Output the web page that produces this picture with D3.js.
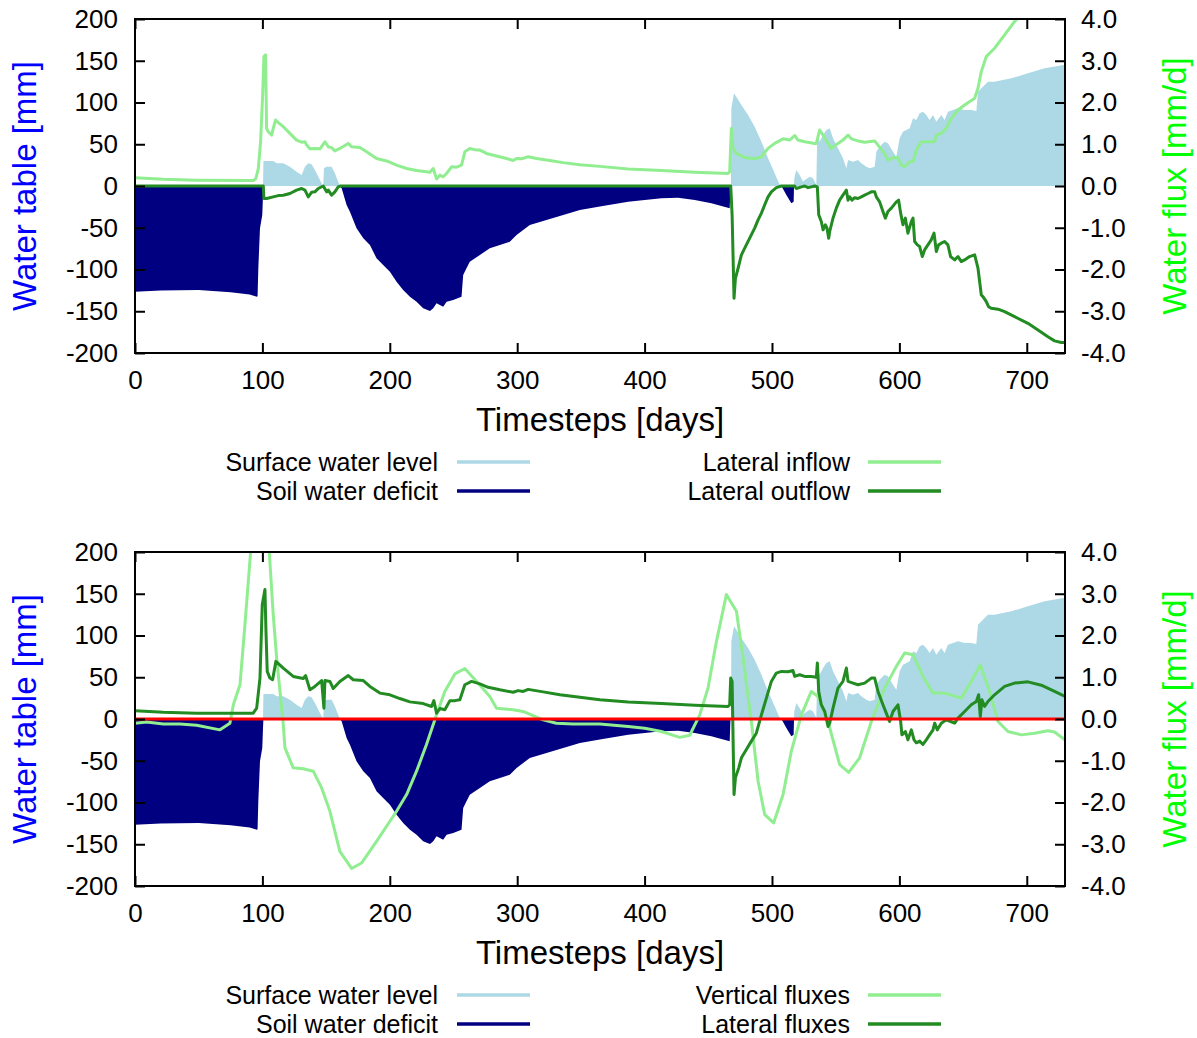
<!DOCTYPE html>
<html>
<head>
<meta charset="utf-8">
<script src="https://cdn.jsdelivr.net/npm/d3@7"></script>
<style>
  body { margin: 0; background: #fff; }
  svg { display: block; }
  text { font-family: "Liberation Sans", Arial, Helvetica, sans-serif; fill: #000; }
</style>
</head>
<body>
<svg id="chart" width="1197" height="1038"></svg>
<script>
// ---- axis ticks ----
const dayTicks = [0, 100, 200, 300, 400, 500, 600, 700];
const mmTicks = [-200, -150, -100, -50, 0, 50, 100, 150, 200];
const fluxTicks = [-4, -3, -2, -1, 0, 1, 2, 3, 4];

// ---- water table series [day, mm] ----
const surfaceLevel = [
  [0,0],[100.5,0],[100.8,29.9],[108.5,30.0],[111.2,27.1],[116.4,27.1],[121.6,23.2],[126.8,17.2],
  [130.8,13.2],[133.4,23.2],[136.0,27.1],[138.6,26.0],[141.2,19.2],[145.2,7.2],[147.2,1.2],[147.8,0],
  [148.3,21.2],[150.4,23.2],[154.3,23.2],[156.9,15.2],[159.5,5.2],[160.8,0],[467.8,0],[468.1,93.0],
  [470.2,111.0],[476.0,97.0],[481.2,85.0],[486.4,71.1],[491.7,53.1],[496.9,33.1],[502.1,15.2],
  [506.1,1.2],[506.5,0],[517.3,0],[517.5,9.2],[519.1,19.2],[521.7,13.2],[524.4,5.2],[525.7,7.2],
  [529.6,11.2],[532.2,9.2],[534.8,1.2],[535.6,65.1],[537.4,53.1],[540.1,61.1],[542.7,67.1],
  [545.3,69.1],[547.9,57.1],[551.8,45.1],[555.7,33.1],[558.4,21.2],[559.7,31.1],[563.6,29.1],
  [567.5,31.1],[570.1,27.1],[574.1,23.2],[576.7,21.2],[580.6,23.2],[581.9,41.1],[584.5,47.1],
  [588.4,53.1],[591.0,51.1],[595.0,41.1],[597.6,35.1],[600.2,57.1],[602.8,65.1],[605.4,67.1],
  [608.1,69.1],[610.7,81.0],[613.3,79.0],[615.9,87.0],[618.5,89.0],[621.1,85.0],[623.7,79.0],
  [626.4,85.0],[629.0,77.0],[632.9,85.0],[635.5,79.0],[638.1,89.0],[642.1,91.0],[646.0,93.0],
  [651.2,91.0],[656.4,91.0],[660.4,89.8],[661.7,113.0],[665.6,119.0],[669.5,125.0],[674.7,125.0],
  [687.8,128.9],[700.9,134.9],[714.0,140.9],[730,145.3]
];
const soilDeficit = [
  [0,-126.5],[20,-125],[50,-124.5],[75,-127.3],[90,-130],[95.5,-132.5],[96.2,-132],[96.8,-98.6],
  [98.1,-50.7],[99.9,-34.7],[100.5,-10],[100.8,0],[160.8,0],[162.2,-2.8],[166.1,-22.8],[168.7,-30.7],
  [173.9,-50.7],[179.2,-62.7],[184.4,-70.7],[189.6,-86.6],[194.8,-94.6],[200.1,-102.6],[205.3,-114.6],
  [210.5,-124.5],[215.8,-132.5],[221.0,-138.5],[226.2,-146.5],[231.5,-149.7],[234.1,-146.5],
  [236.7,-140.5],[241.9,-144.5],[244.6,-138.5],[249.8,-136.5],[256.3,-132.5],[257.6,-106.6],
  [260.2,-98.6],[262.8,-90.6],[270.7,-82.6],[278.5,-74.7],[286.4,-70.7],[294.2,-66.7],[299.5,-58.7],
  [309.9,-46.7],[323.0,-40.7],[336.1,-34.7],[349.2,-28.7],[364.9,-24.5],[387.1,-18.8],[413.2,-14.8],
  [426.3,-14.0],[439.4,-16.8],[452.4,-20.8],[466.8,-26.7],[467.4,0],[507.4,0],[511.3,-10.8],
  [515.2,-20.8],[517.0,-18.8],[517.3,0],[730,0]
];

// ---- water flux series [day, mm/d] ----
const lateralInflow = [
  [0,0.20],[22.2,0.16],[48.4,0.14],[92.8,0.13],[94.9,0.18],[96.8,0.42],[98.6,1.06],[100.2,2.18],
  [101.2,3.10],[102.5,3.14],[103.3,1.38],[104.6,1.30],[107.2,1.22],[108.5,1.38],[110.4,1.58],
  [112.5,1.52],[116.4,1.42],[121.6,1.26],[126.8,1.10],[130.8,1.05],[133.4,1.06],[134.7,0.98],
  [137.3,0.89],[141.2,0.90],[145.2,0.89],[147.8,1.00],[149.1,1.06],[151.7,0.94],[154.3,0.92],
  [156.9,0.84],[160.8,0.90],[167.4,1.02],[170.0,0.94],[176.5,0.92],[181.8,0.82],[189.6,0.66],
  [197.5,0.60],[205.3,0.50],[213.2,0.42],[221.0,0.37],[231.5,0.33],[234.1,0.42],[236.7,0.17],
  [239.3,0.26],[241.9,0.22],[244.5,0.30],[248.5,0.46],[252.4,0.45],[256.3,0.50],[258.9,0.82],
  [262.8,0.90],[268.1,0.86],[270.7,0.86],[275.9,0.78],[283.8,0.72],[291.6,0.66],[296.8,0.61],
  [299.5,0.66],[303.4,0.65],[308.6,0.70],[315.2,0.66],[325.6,0.61],[336.1,0.56],[349.2,0.51],
  [364.9,0.47],[387.1,0.41],[413.2,0.37],[439.4,0.33],[465.5,0.30],[466.8,0.34],[468.1,1.38],
  [469.4,0.90],[472.1,0.78],[478.6,0.68],[486.4,0.65],[491.7,0.70],[496.9,0.90],[502.1,1.02],
  [508.7,1.13],[513.9,1.10],[517.8,1.21],[520.4,1.10],[525.7,1.06],[533.5,1.02],[534.8,1.02],
  [537.4,1.34],[540.1,1.22],[544.0,1.02],[546.6,0.90],[551.8,1.02],[555.7,1.10],[559.7,1.22],
  [562.3,1.13],[567.5,1.08],[572.7,1.05],[580.6,1.08],[583.2,0.98],[588.4,0.78],[591.0,0.62],
  [595.0,0.68],[598.9,0.68],[601.5,0.50],[604.1,0.46],[608.1,0.58],[610.7,0.58],[613.3,0.86],
  [617.2,1.06],[622.4,1.06],[627.7,1.06],[629.0,1.22],[632.9,1.26],[636.8,1.38],[640.7,1.62],
  [646.0,1.82],[651.2,1.94],[659.1,2.10],[661.7,2.34],[664.3,2.74],[668.2,3.10],[674.7,3.30],
  [682.6,3.62],[690.4,3.94],[693.1,4.02],[730,5.4]
];
const lateralOutflow = [
  [0,0],[100.7,0],[101.2,-0.30],[103.3,-0.30],[108.5,-0.26],[112.5,-0.23],[116.4,-0.22],
  [121.6,-0.18],[126.8,-0.10],[130.8,-0.06],[133.4,-0.10],[136.0,-0.26],[138.6,-0.15],[141.2,-0.14],
  [143.8,-0.06],[147.8,0],[150.4,-0.14],[151.7,-0.10],[154.3,-0.22],[156.9,-0.14],[159.5,-0.02],
  [161.4,0],[467.6,0],[468.7,-0.69],[470.2,-2.69],[471.3,-2.21],[473.4,-1.97],[476.0,-1.65],
  [478.6,-1.49],[482.5,-1.25],[486.4,-1.01],[489.1,-0.81],[491.7,-0.65],[494.3,-0.45],[496.9,-0.26],
  [499.5,-0.14],[503.4,-0.04],[507.4,0],[517.8,0],[519.1,-0.06],[523.1,-0.02],[525.7,0],
  [528.3,-0.04],[530.9,-0.02],[533.5,0],[535.6,-0.02],[536.7,-0.69],[538.7,-0.85],[540.1,-1.05],
  [541.9,-0.93],[543.2,-1.01],[544.5,-1.25],[545.3,-1.09],[547.9,-0.77],[550.5,-0.53],[553.1,-0.34],
  [555.7,-0.22],[558.4,-0.10],[559.7,-0.34],[561.0,-0.26],[562.8,-0.34],[564.9,-0.28],[567.5,-0.30],
  [570.1,-0.26],[572.7,-0.22],[575.4,-0.18],[578.0,-0.14],[580.6,-0.14],[581.9,-0.26],[584.5,-0.38],
  [587.1,-0.61],[589.0,-0.77],[591.0,-0.61],[593.7,-0.53],[597.6,-0.38],[599.4,-0.34],[601.0,-0.65],
  [602.8,-0.93],[604.7,-0.77],[606.7,-1.13],[609.4,-0.85],[610.7,-0.77],[612.0,-1.33],[614.1,-1.41],
  [615.9,-1.45],[618.0,-1.69],[619.8,-1.53],[622.4,-1.41],[625.0,-1.29],[627.2,-1.13],[629.0,-1.57],
  [630.8,-1.41],[632.9,-1.37],[635.5,-1.33],[638.1,-1.41],[640.2,-1.69],[643.4,-1.77],[646.0,-1.69],
  [648.6,-1.81],[651.2,-1.77],[655.1,-1.69],[659.1,-1.65],[661.7,-1.97],[664.3,-2.61],[665.6,-2.65],
  [668.2,-2.77],[670.0,-2.89],[672.1,-2.93],[677.4,-2.95],[682.6,-3.01],[690.4,-3.13],[700.9,-3.29],
  [708.8,-3.45],[716.6,-3.61],[721.8,-3.71],[727.1,-3.75],[730,-3.75]
];
const verticalFluxes = [
  [0,-0.10],[9.2,-0.07],[22.2,-0.12],[35.3,-0.12],[48.4,-0.15],[66.7,-0.26],[74.5,-0.10],[77.2,0.34],
  [82.4,0.82],[86.3,2.26],[90.8,4.02],[98.0,6.6],[105.4,4.0],[108.5,2.50],[111.2,1.46],[113.8,0.66],
  [116.4,-0.14],[117.7,-0.69],[124.2,-1.17],[132.1,-1.19],[139.9,-1.25],[146.5,-1.65],[153.0,-2.21],
  [160.8,-3.17],[170.0,-3.58],[177.8,-3.45],[189.6,-2.93],[205.3,-2.21],[213.2,-1.81],[221.0,-1.25],
  [228.8,-0.61],[236.7,0.10],[243.2,0.66],[251.1,1.08],[258.9,1.21],[268.1,0.90],[278.5,0.54],
  [283.8,0.26],[296.8,0.22],[304.7,0.18],[313.8,0.06],[320.4,-0.02],[330.8,-0.10],[343.9,-0.12],
  [364.9,-0.12],[387.1,-0.18],[400.1,-0.22],[413.2,-0.30],[427.6,-0.44],[435.4,-0.39],[443.3,0.10],
  [449.8,0.74],[456.4,1.86],[464.2,2.98],[472.1,2.58],[477.3,1.46],[483.8,-0.06],[489.1,-1.49],
  [494.3,-2.29],[501.3,-2.49],[508.7,-1.81],[515.2,-0.77],[523.1,0.10],[530.9,0.66],[536.1,0.54],
  [544.0,-0.06],[553.1,-1.09],[560.2,-1.28],[568.8,-0.93],[578.0,-0.06],[588.4,0.74],[597.6,1.26],
  [604.1,1.58],[610.7,1.54],[618.5,1.02],[626.4,0.62],[635.5,0.62],[648.6,0.50],[656.4,0.90],
  [663.5,1.30],[670.8,0.66],[677.4,-0.06],[685.2,-0.30],[695.7,-0.38],[706.1,-0.34],[716.6,-0.28],
  [721.8,-0.31],[730,-0.50]
];
const lateralFluxes = [
  [0,0.20],[22.2,0.16],[48.4,0.14],[92.8,0.14],[95.5,0.26],[98.1,0.98],[99.9,2.74],[102.0,3.10],
  [102.8,2.10],[103.8,1.14],[105.9,0.98],[108.0,0.94],[110.6,1.38],[116.4,1.22],[124.2,1.02],
  [132.1,0.97],[133.9,1.04],[137.3,0.70],[141.2,0.78],[146.5,0.92],[148.3,0.26],[149.1,0.92],
  [153.0,0.90],[155.6,0.73],[160.8,0.90],[167.4,1.04],[171.3,0.94],[179.2,0.92],[184.4,0.78],
  [192.2,0.62],[200.1,0.58],[207.9,0.49],[215.8,0.41],[226.2,0.37],[232.8,0.30],[234.6,0.44],
  [236.7,0.14],[239.3,0.25],[243.2,0.22],[247.2,0.44],[251.1,0.44],[255.0,0.46],[258.9,0.82],
  [264.2,0.90],[270.7,0.84],[277.2,0.76],[286.4,0.70],[296.8,0.64],[300.8,0.68],[304.7,0.66],
  [308.6,0.71],[320.4,0.65],[333.5,0.58],[349.2,0.52],[364.9,0.46],[387.1,0.41],[413.2,0.37],
  [439.4,0.33],[465.5,0.30],[466.8,0.34],[467.6,0.98],[468.7,0.90],[470.2,-1.81],[471.3,-1.41],
  [473.9,-1.17],[476.0,-0.93],[479.9,-0.73],[483.8,-0.53],[487.7,-0.34],[491.7,0.10],[495.6,0.50],
  [499.5,0.90],[503.4,1.10],[507.4,1.14],[512.6,1.13],[516.5,1.16],[517.8,1.02],[521.7,1.06],
  [525.7,1.02],[530.9,1.02],[534.8,1.00],[535.6,1.34],[536.7,0.66],[538.7,0.34],[541.4,0.18],
  [544.0,-0.18],[545.3,-0.10],[547.9,0.26],[551.8,0.74],[555.7,0.90],[558.4,1.22],[559.7,0.90],
  [563.6,0.86],[567.5,0.82],[572.7,0.86],[578.0,0.98],[580.6,0.98],[583.2,0.66],[587.1,0.34],
  [589.7,0.14],[592.3,-0.06],[595.0,0.18],[598.9,0.34],[601.0,-0.06],[602.0,-0.38],[604.7,-0.30],
  [606.7,-0.50],[609.4,-0.26],[611.5,-0.50],[613.3,-0.57],[615.9,-0.53],[618.5,-0.61],[621.1,-0.50],
  [623.7,-0.38],[626.4,-0.26],[627.7,-0.10],[629.8,-0.26],[632.9,-0.10],[636.8,-0.02],[640.2,-0.06],
  [643.4,-0.10],[646.0,0.02],[651.2,0.18],[656.4,0.34],[660.4,0.42],[662.2,0.58],[663.5,0.06],
  [664.8,0.46],[666.9,0.30],[669.5,0.42],[674.7,0.58],[682.6,0.78],[690.4,0.86],[700.9,0.89],
  [711.4,0.81],[721.8,0.66],[730,0.54]
];

// ---- layout ----
const svg = d3.select("#chart");
const plotLeft = 135, plotRight = 1065, plotH = 334;
const fontTick = 26, fontLegend = 25, fontTitle = 33;

const colors = {
  surface: "#add8e6",
  deficit: "#000080",
  light: "#90ee90",
  dark: "#228b22",
  zero: "#ff0000",
  leftTitle: "#0000ff",
  rightTitle: "#00ff00"
};

const panels = [
  { top: 19, id: "p1",
    fluxes: [
      { label: "Lateral inflow", data: lateralInflow, color: colors.light },
      { label: "Lateral outflow", data: lateralOutflow, color: colors.dark }
    ],
    zeroLine: false },
  { top: 552, id: "p2",
    fluxes: [
      { label: "Vertical fluxes", data: verticalFluxes, color: colors.light },
      { label: "Lateral fluxes", data: lateralFluxes, color: colors.dark }
    ],
    zeroLine: true }
];

const x = d3.scaleLinear().domain([0, 730]).range([plotLeft, plotRight]);

panels.forEach(p => {
  const g = svg.append("g").attr("transform", `translate(0,${p.top})`);
  const yMm = d3.scaleLinear().domain([-200, 200]).range([plotH, 0]);
  const yFlux = d3.scaleLinear().domain([-4, 4]).range([plotH, 0]);

  g.append("clipPath").attr("id", "clip-" + p.id)
    .append("rect").attr("x", plotLeft).attr("y", 0)
    .attr("width", plotRight - plotLeft).attr("height", plotH);

  const plot = g.append("g").attr("clip-path", `url(#clip-${p.id})`);

  // water table areas on the left axis
  const areaMm = d3.area()
    .x(d => x(d[0])).y0(yMm(0)).y1(d => yMm(d[1]));

  plot.append("path").datum(surfaceLevel)
    .attr("d", areaMm).attr("fill", colors.surface);
  plot.append("path").datum(soilDeficit)
    .attr("d", areaMm).attr("fill", colors.deficit);

  // flux lines on the right axis
  const lineFlux = d3.line().x(d => x(d[0])).y(d => yFlux(d[1]));
  p.fluxes.forEach(f => {
    plot.append("path").datum(f.data)
      .attr("d", lineFlux)
      .attr("fill", "none")
      .attr("stroke", f.color)
      .attr("stroke-width", 3)
      .attr("stroke-linejoin", "round");
  });

  if (p.zeroLine) {
    plot.append("line")
      .attr("x1", x(0)).attr("x2", x(730))
      .attr("y1", yFlux(0)).attr("y2", yFlux(0))
      .attr("stroke", colors.zero).attr("stroke-width", 3);
  }

  // axes with inward ticks
  const styleAxis = sel => {
    sel.select(".domain").remove();
    sel.selectAll(".tick line").attr("stroke", "#000").attr("stroke-width", 2);
    sel.selectAll(".tick text").attr("font-size", fontTick)
      .attr("font-family", '"Liberation Sans", Arial, sans-serif').attr("fill", "#000");
  };

  g.append("g").attr("transform", `translate(${plotLeft},0)`)
    .call(d3.axisLeft(yMm).tickValues(mmTicks).tickSize(-10).tickPadding(17).tickFormat(d => String(d)))
    .call(styleAxis);
  g.append("g").attr("transform", `translate(${plotRight},0)`)
    .call(d3.axisRight(yFlux).tickValues(fluxTicks).tickSize(-10).tickPadding(16).tickFormat(d => d.toFixed(1)))
    .call(styleAxis);
  g.append("g").attr("transform", `translate(0,${plotH})`)
    .call(d3.axisBottom(x).tickValues(dayTicks).tickSize(-10).tickPadding(18).tickFormat(d => String(d)))
    .call(styleAxis);
  g.append("g")
    .call(d3.axisTop(x).tickValues(dayTicks).tickSize(-10).tickFormat(""))
    .call(styleAxis);

  g.append("rect")
    .attr("x", plotLeft).attr("y", 0)
    .attr("width", plotRight - plotLeft).attr("height", plotH)
    .attr("fill", "none").attr("stroke", "#000").attr("stroke-width", 2);

  // axis titles
  g.append("text")
    .attr("x", (plotLeft + plotRight) / 2).attr("y", 412)
    .attr("text-anchor", "middle").attr("font-size", fontTitle)
    .text("Timesteps [days]");
  g.append("text")
    .attr("transform", `translate(36,${plotH / 2}) rotate(-90)`)
    .attr("text-anchor", "middle").attr("font-size", fontTitle)
    .style("fill", colors.leftTitle)
    .text("Water table [mm]");
  g.append("text")
    .attr("transform", `translate(1186,${plotH / 2}) rotate(-90)`)
    .attr("text-anchor", "middle").attr("font-size", fontTitle)
    .style("fill", colors.rightTitle)
    .text("Water flux [mm/d]");

  // legend
  const legendItems = [
    { label: "Surface water level", color: colors.surface, col: 0, row: 0 },
    { label: "Soil water deficit", color: colors.deficit, col: 0, row: 1 },
    { label: p.fluxes[0].label, color: p.fluxes[0].color, col: 1, row: 0 },
    { label: p.fluxes[1].label, color: p.fluxes[1].color, col: 1, row: 1 }
  ];
  const colTextEnd = [438, 850];
  const colLineStart = [457, 868];
  const lineLen = 73;
  const rowY = [443, 472];
  const lg = g.append("g");
  legendItems.forEach(it => {
    lg.append("text")
      .attr("x", colTextEnd[it.col]).attr("y", rowY[it.row])
      .attr("dy", "0.35em").attr("text-anchor", "end")
      .attr("font-size", fontLegend).text(it.label);
    lg.append("line")
      .attr("x1", colLineStart[it.col]).attr("x2", colLineStart[it.col] + lineLen)
      .attr("y1", rowY[it.row]).attr("y2", rowY[it.row])
      .attr("stroke", it.color).attr("stroke-width", 3.5);
  });
});
</script>
</body>
</html>
